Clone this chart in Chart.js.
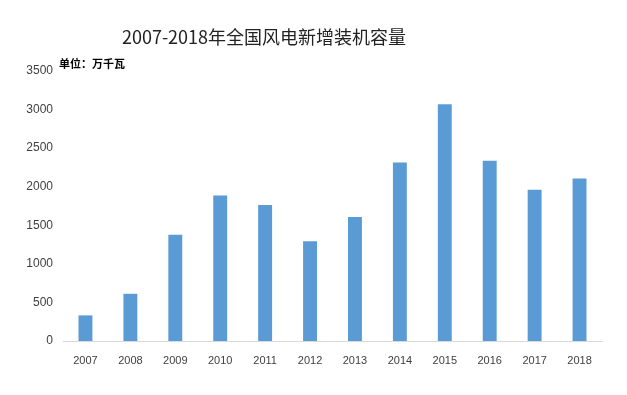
<!DOCTYPE html>
<html>
<head>
<meta charset="utf-8">
<script src="https://cdn.jsdelivr.net/npm/chart.js@4/dist/chart.umd.min.js"></script>
<style>
html,body{margin:0;padding:0;background:#fff;}
#wrap{width:627px;height:395px;position:relative;}
</style>
</head>
<body>
<div id="wrap"><canvas id="c" width="627" height="395"></canvas></div>
<script>
const titleText = '2007-2018年全国风电新增装机容量';
const unitText = '单位：万千瓦';
const categories = ['2007','2008','2009','2010','2011','2012','2013','2014','2015','2016','2017','2018'];
const capacity = [332, 612, 1378, 1886, 1762, 1292, 1607, 2314, 3068, 2338, 1960, 2107];
const yTicks = [0, 500, 1000, 1500, 2000, 2500, 3000, 3500];

const textPlugin = {
  id: 'textPlugin',
  afterDraw(chart) {
    const ctx = chart.ctx;
    ctx.save();
    ctx.fillStyle = '#222222';
    ctx.font = '18px "Noto Sans CJK SC", "Liberation Sans", sans-serif';
    ctx.textAlign = 'center';
    ctx.textBaseline = 'middle';
    ctx.fillText(titleText, 264, 37);
    ctx.font = 'bold 11px "Noto Sans CJK SC", sans-serif';
    ctx.textAlign = 'left';
    ctx.fillStyle = '#000000';
    ctx.fillText(unitText, 59, 64);
    ctx.restore();
  }
};

new Chart(document.getElementById('c'), {
  type: 'bar',
  data: {
    labels: categories,
    datasets: [{
      data: capacity,
      backgroundColor: '#5b9bd5',
      borderWidth: 0,
      barPercentage: 0.62,
      categoryPercentage: 0.5
    }]
  },
  plugins: [textPlugin],
  options: {
    responsive: false,
    animation: false,
    layout: { padding: { top: 71, right: 25, left: 0, bottom: 0 } },
    plugins: { legend: { display: false }, tooltip: { enabled: false }, title: { display: false } },
    scales: {
      x: {
        grid: { display: false, drawTicks: false },
        border: { display: true, color: '#d9d9d9', width: 1 },
        ticks: { color: '#404040', font: { family: '"Liberation Sans", sans-serif', size: 11 }, padding: 13, maxRotation: 0 },
        afterFit(s) { s.height = 54; }
      },
      y: {
        min: 0, max: 3500,
        afterBuildTicks(s) { s.ticks = yTicks.map(v => ({ value: v })); },
        grid: { display: false, drawTicks: false },
        border: { display: false },
        ticks: { color: '#404040', font: { family: '"Liberation Sans", sans-serif', size: 12 }, padding: 10, callback: v => String(v) },
        afterFit(s) { s.width = 63; }
      }
    }
  }
});
</script>
</body>
</html>
